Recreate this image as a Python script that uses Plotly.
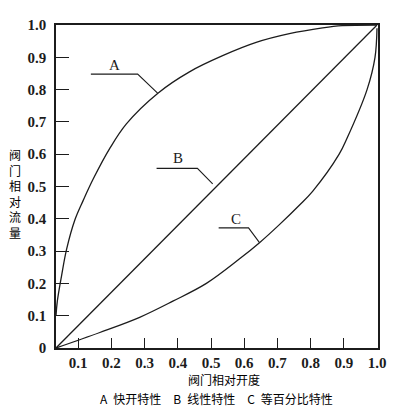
import plotly.graph_objects as go

# ---- data ----
a_x = [0.033, 0.037, 0.05, 0.065, 0.09, 0.115, 0.145, 0.195, 0.245, 0.34, 0.435, 0.535, 0.636, 0.736, 0.836, 0.895, 1.0]
a_y = [0.10, 0.145, 0.225, 0.306, 0.397, 0.457, 0.523, 0.618, 0.694, 0.789, 0.855, 0.905, 0.946, 0.973, 0.991, 0.998, 1.0]

b_x = [0.033, 1.0]
b_y = [0.0, 1.0]

c_x = [0.033, 0.165, 0.285, 0.385, 0.486, 0.586, 0.646, 0.706, 0.766, 0.806, 0.886, 0.91, 0.97, 0.994, 1.0]
c_y = [0.0, 0.048, 0.095, 0.145, 0.20, 0.276, 0.326, 0.382, 0.442, 0.485, 0.60, 0.65, 0.80, 0.90, 0.99]

# leader lines for the curve labels
lead_a_x = [0.138, 0.279, 0.339]
lead_a_y = [0.848, 0.848, 0.789]
lead_b_x = [0.336, 0.459, 0.505]
lead_b_y = [0.556, 0.556, 0.508]
lead_c_x = [0.523, 0.613, 0.646]
lead_c_y = [0.372, 0.372, 0.326]

labels = ["A", "B", "C"]
label_x = [0.21, 0.40, 0.574]
label_y = [0.877, 0.589, 0.40]

x_ticks = [0.1, 0.2, 0.3, 0.4, 0.5, 0.6, 0.7, 0.8, 0.9, 1.0]
x_ticktext = ["0.1", "0.2", "0.3", "0.4", "0.5", "0.6", "0.7", "0.8", "0.9", "1.0"]
y_ticks = [0, 0.1, 0.2, 0.3, 0.4, 0.5, 0.6, 0.7, 0.8, 0.9, 1.0]
y_ticktext = ["0", "0.1", "0.2", "0.3", "0.4", "0.5", "0.6", "0.7", "0.8", "0.9", "1.0"]

x_title = "阀门相对开度"
y_title = "阀门相对流量"
caption = "A\u2002快开特性\u3000B\u2002线性特性\u3000C\u2002等百分比特性"

INK = "#1c1c1c"
SERIF = "Liberation Serif"
CJK = "Noto Sans CJK SC"

fig = go.Figure()
for xs, ys in [(a_x, a_y), (b_x, b_y), (c_x, c_y)]:
    fig.add_trace(go.Scatter(x=xs, y=ys, mode="lines",
                             line=dict(color=INK, width=1.3, shape="spline", smoothing=1.0),
                             hoverinfo="skip", showlegend=False))
for xs, ys in [(lead_a_x, lead_a_y), (lead_b_x, lead_b_y), (lead_c_x, lead_c_y)]:
    fig.add_trace(go.Scatter(x=xs, y=ys, mode="lines",
                             line=dict(color=INK, width=1.1),
                             hoverinfo="skip", showlegend=False))

for t, lx, ly in zip(labels, label_x, label_y):
    fig.add_annotation(x=lx, y=ly, text=t, showarrow=False, xanchor="center", yanchor="middle",
                       font=dict(family=SERIF, size=15, color=INK))

fig.add_annotation(xref="paper", yref="paper", x=0.522, y=-0.097, text=x_title,
                   showarrow=False, xanchor="center", yanchor="middle",
                   font=dict(family=CJK, size=12, color="#000"))
fig.add_annotation(xref="paper", yref="paper", x=0.497, y=-0.157, text=caption,
                   showarrow=False, xanchor="center", yanchor="middle",
                   font=dict(family=CJK, size=12, color="#000"))
fig.add_annotation(xref="paper", yref="paper", x=-0.127, y=0.477,
                   text="<br>".join(list(y_title)),
                   showarrow=False, xanchor="center", yanchor="middle",
                   font=dict(family=CJK, size=12, color="#000"))

fig.update_xaxes(range=[0.033, 1.003], tickvals=x_ticks, ticktext=x_ticktext,
                 ticks="inside", ticklen=10, tickwidth=1.2, tickcolor=INK,
                 showline=True, linewidth=1.6, linecolor=INK, mirror=True,
                 showgrid=False, zeroline=False, ticklabelstandoff=0,
                 tickfont=dict(family=SERIF, size=15, color=INK, weight=700))
fig.update_yaxes(range=[0, 1.0], tickvals=y_ticks, ticktext=y_ticktext,
                 ticks="inside", ticklen=13, tickwidth=1.2, tickcolor=INK,
                 showline=True, linewidth=1.6, linecolor=INK, mirror=True,
                 showgrid=False, zeroline=False, ticklabelstandoff=5,
                 tickfont=dict(family=SERIF, size=15, color=INK, weight=700))

# the page body has an 8px margin, so the figure is sized to sit inside the window
fig.update_layout(width=390, height=406,
                  margin=dict(l=48, r=20, t=9, b=66),
                  plot_bgcolor="white", paper_bgcolor="white")

fig.write_html("out.html", config={"displayModeBar": False})
